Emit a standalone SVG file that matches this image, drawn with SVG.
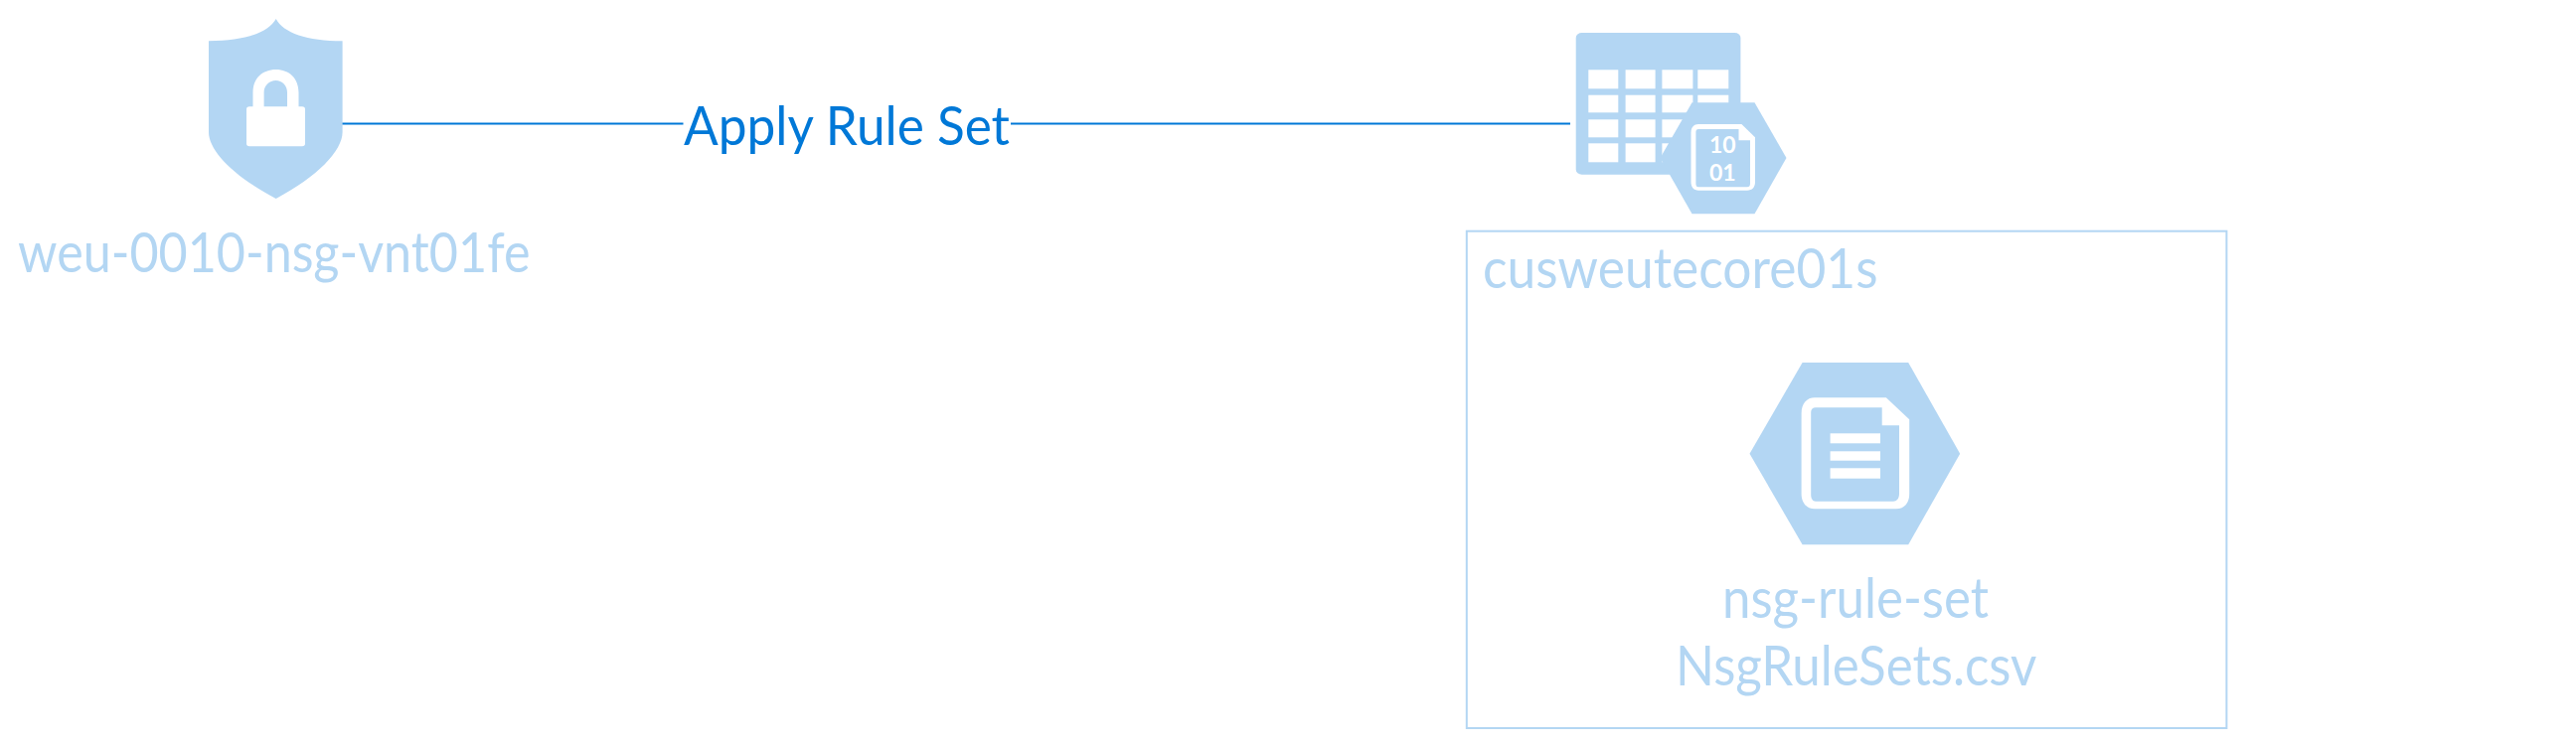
<svg xmlns="http://www.w3.org/2000/svg" width="2592" height="751" viewBox="0 0 2592 751">
<style>
.ic{fill:#B3D6F3}
.wh{fill:#FFFFFF}
.lb{font-family:Lato,"Liberation Sans",sans-serif;font-size:56px;fill:#B3D6F3}
.cn{fill:none;stroke:#0078D7;stroke-width:2}
.cl{font-family:Lato,"Liberation Sans",sans-serif;font-size:55px;fill:#0078D7}
.bit{font-family:Lato,"Liberation Sans",sans-serif;font-size:23px;font-weight:700;fill:#FFFFFF}
</style>
<rect width="2592" height="751" fill="#FFFFFF"/>
<g id="connectors">
<path class="cn" d="M344 124.5H687.5M1017 124.5H1580"/>
<text class="cl" x="688" y="146" textLength="328" lengthAdjust="spacingAndGlyphs">Apply Rule Set</text>
</g>
<g id="nsg">
<path class="ic" d="M277.7 19C270 33 246 41.3 210 41.3V133C210 152 236 178 277.7 200C319 178 344.6 152 344.6 133V41.3C309 41.3 285 33 277.7 19Z"/>
<path class="wh" fill-rule="evenodd" d="M254.5 107.3V93C254.5 79 264 70 277.7 70C291 70 300.5 79 300.5 93V107.3H304C306 107.3 307 108.3 307 110V144.5C307 146.3 306 147.3 304 147.3H251C249 147.3 248 146.3 248 144.5V110C248 108.3 249 107.3 251 107.3ZM265.6 107.3H289V93C289 86 284 81 277.5 81C271 81 265.6 86 265.6 93Z"/>
<text class="lb" x="18" y="274" textLength="515.5" lengthAdjust="spacingAndGlyphs">weu-0010-nsg-vnt01fe</text>
</g>
<g id="storage">
<rect class="ic" x="1585.7" y="33" width="165.7" height="142.7" rx="6" ry="5"/>
<g class="wh">
<rect x="1598.3" y="70.3" width="30" height="19"/><rect x="1635.6" y="70.3" width="30" height="19"/><rect x="1672.4" y="70.3" width="31" height="19"/><rect x="1708.3" y="70.3" width="31" height="19"/>
<rect x="1598.3" y="95.7" width="30" height="17.6"/><rect x="1635.6" y="95.7" width="30" height="17.6"/><rect x="1672.4" y="95.7" width="31" height="17.6"/><rect x="1708.3" y="95.7" width="31" height="17.6"/>
<rect x="1598.3" y="120.3" width="30" height="18"/><rect x="1635.6" y="120.3" width="30" height="18"/><rect x="1672.4" y="120.3" width="31" height="18"/>
<rect x="1598.3" y="144.3" width="30" height="19"/><rect x="1635.6" y="144.3" width="30" height="19"/><rect x="1672.4" y="144.3" width="31" height="19"/>
</g>
<polygon class="ic" points="1702.5,103.3 1765.5,103.3 1797.5,159 1765.5,215.3 1702.5,215.3 1670.5,159"/>
<path class="wh" d="M1709 125H1752.4L1766 138.3V183C1766 188.5 1763 191.7 1758 191.7H1709C1704.5 191.7 1701.5 188.5 1701.5 183V133.5C1701.5 128 1704.5 125 1709 125Z"/>
<path class="ic" d="M1709 130H1749.5V141.3H1761V185C1761 187 1760 188.3 1758 188.3H1709C1707.3 188.3 1706.4 187 1706.4 185V133C1706.4 131 1707.3 130 1709 130Z"/>
<text class="bit" x="1720" y="154">10</text>
<text class="bit" x="1720" y="182">01</text>
</g>
<g id="container">
<rect x="1475.8" y="232.7" width="764.6" height="500.3" fill="none" stroke="#B3D6F3" stroke-width="2"/>
<text class="lb" x="1492" y="290" textLength="397.5" lengthAdjust="spacingAndGlyphs">cusweutecore01s</text>
</g>
<g id="blob">
<polygon class="ic" points="1813.6,365 1920.2,365 1972.2,456.7 1920.2,548.3 1813.6,548.3 1760.5,456.7"/>
<path class="wh" d="M1826 400.3H1897.8L1921.2 422.3V497C1921.2 506.5 1916 512.3 1908 512.3H1826C1818 512.3 1812.6 506.5 1812.6 497V416C1812.6 406.5 1818 400.3 1826 400.3Z"/>
<path class="ic" d="M1827 410.3H1893.7V428.3H1911V497C1911 502 1908.5 504.7 1905 504.7H1827C1824 504.7 1822.2 502 1822.2 498V415C1822.2 412 1824 410.3 1827 410.3Z"/>
<rect class="wh" x="1841.6" y="436.3" width="50.4" height="10"/>
<rect class="wh" x="1841.6" y="454.3" width="50.4" height="9.4"/>
<rect class="wh" x="1841.6" y="471.3" width="50.4" height="10.4"/>
<text class="lb" x="1733" y="622.3" textLength="268" lengthAdjust="spacingAndGlyphs">nsg-rule-set</text>
<text class="lb" x="1686" y="689.7" textLength="363.5" lengthAdjust="spacingAndGlyphs">NsgRuleSets.csv</text>
</g>
</svg>
